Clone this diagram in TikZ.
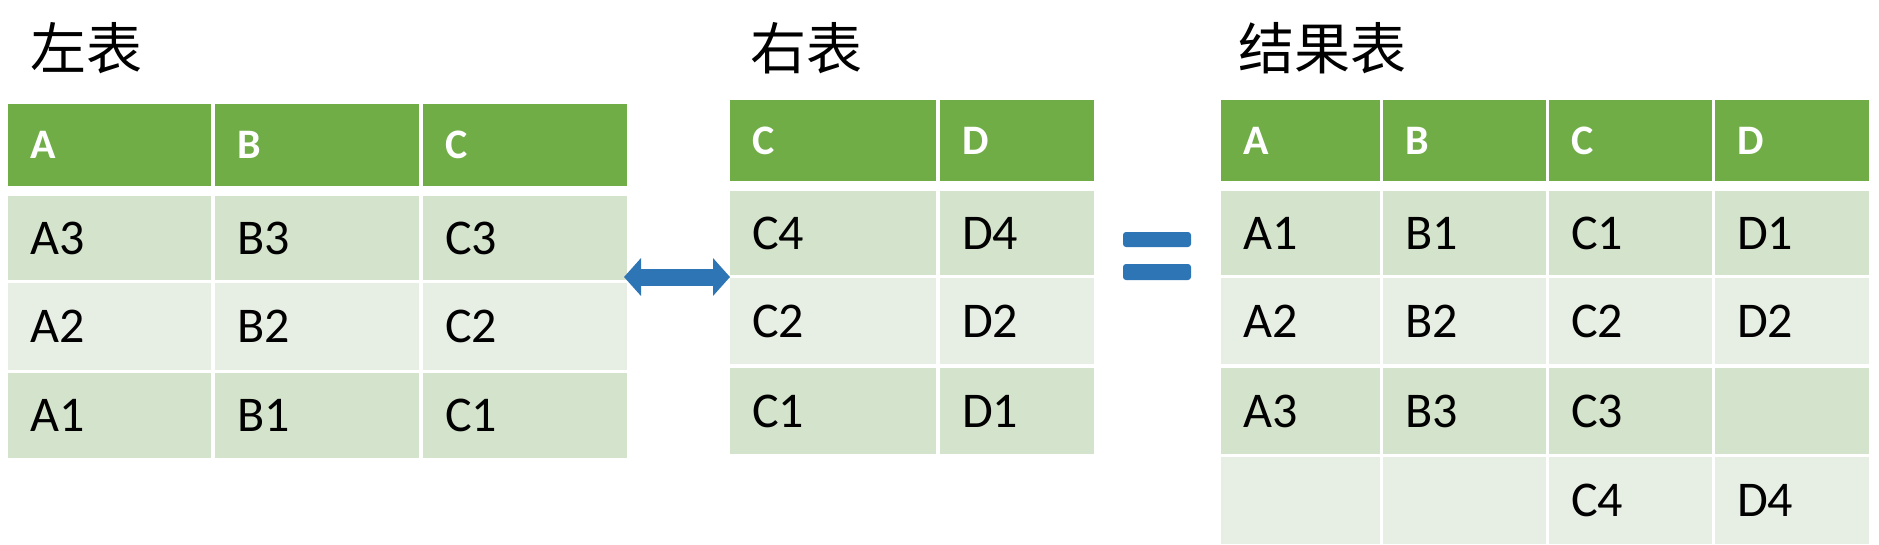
\documentclass[tikz,border=0pt]{standalone}
\usepackage{fontspec}
\setmainfont{Carlito}
\newfontfamily\cjk{Noto Sans CJK SC}
\usetikzlibrary{arrows.meta}
\definecolor{hdr}{HTML}{70AD47}
\definecolor{rowa}{HTML}{D4E3CB}
\definecolor{rowb}{HTML}{E7EEE3}
\definecolor{eqblue}{HTML}{2E75B6}
\tikzset{
  cell/.style={anchor=north west, inner sep=0pt, text depth=0pt, align=left, text=black,
    font=\fontsize{50}{50}\selectfont, text width=#1},
  hd/.style={fill=hdr, text=white, font=\bfseries\fontsize{42}{42}\selectfont},
  title/.style={anchor=north west, inner sep=0pt, font=\cjk\fontsize{56}{56}\selectfont}
}
% \mycell{name}{x1}{y1}{x2}{y2}{style}{text}
\newcommand{\mycell}[7]{%
  \fill[#6] (#2,#3) rectangle (#4,#5);
  \node[cell=#4-#2-22pt, #6, fill=none, anchor=west] (#1) at ({#2+22},{(#3+#5)/2}) {#7};}
\begin{document}
\begin{tikzpicture}[x=1pt,y=-1pt]
\useasboundingbox (0,0) rectangle (1879,544);
% titles
\node[title] (tl) at (30,22) {左表};
\node[title] (tr) at (750,22) {右表};
\node[title] (tres) at (1238,22) {结果表};
% left table
\mycell{l-h1}{8}{104}{211}{186}{hd}{A}
\mycell{l-h2}{215}{104}{419}{186}{hd}{B}
\mycell{l-h3}{423}{104}{627}{186}{hd}{C}
\mycell{l-11}{8}{196}{211}{280}{fill=rowa}{A3}
\mycell{l-12}{215}{196}{419}{280}{fill=rowa}{B3}
\mycell{l-13}{423}{196}{627}{280}{fill=rowa}{C3}
\mycell{l-21}{8}{283}{211}{370}{fill=rowb}{A2}
\mycell{l-22}{215}{283}{419}{370}{fill=rowb}{B2}
\mycell{l-23}{423}{283}{627}{370}{fill=rowb}{C2}
\mycell{l-31}{8}{373}{211}{458}{fill=rowa}{A1}
\mycell{l-32}{215}{373}{419}{458}{fill=rowa}{B1}
\mycell{l-33}{423}{373}{627}{458}{fill=rowa}{C1}
% right table
\mycell{r-h1}{730}{100}{936}{181}{hd}{C}
\mycell{r-h2}{940}{100}{1094}{181}{hd}{D}
\mycell{r-11}{730}{191}{936}{275}{fill=rowa}{C4}
\mycell{r-12}{940}{191}{1094}{275}{fill=rowa}{D4}
\mycell{r-21}{730}{278}{936}{364}{fill=rowb}{C2}
\mycell{r-22}{940}{278}{1094}{364}{fill=rowb}{D2}
\mycell{r-31}{730}{368}{936}{454}{fill=rowa}{C1}
\mycell{r-32}{940}{368}{1094}{454}{fill=rowa}{D1}
% result table
\mycell{s-h1}{1221}{100}{1380}{181}{hd}{A}
\mycell{s-h2}{1383}{100}{1546}{181}{hd}{B}
\mycell{s-h3}{1549}{100}{1712}{181}{hd}{C}
\mycell{s-h4}{1715}{100}{1869}{181}{hd}{D}
\mycell{s-11}{1221}{191}{1380}{275}{fill=rowa}{A1}
\mycell{s-12}{1383}{191}{1546}{275}{fill=rowa}{B1}
\mycell{s-13}{1549}{191}{1712}{275}{fill=rowa}{C1}
\mycell{s-14}{1715}{191}{1869}{275}{fill=rowa}{D1}
\mycell{s-21}{1221}{278}{1380}{364}{fill=rowb}{A2}
\mycell{s-22}{1383}{278}{1546}{364}{fill=rowb}{B2}
\mycell{s-23}{1549}{278}{1712}{364}{fill=rowb}{C2}
\mycell{s-24}{1715}{278}{1869}{364}{fill=rowb}{D2}
\mycell{s-31}{1221}{368}{1380}{454}{fill=rowa}{A3}
\mycell{s-32}{1383}{368}{1546}{454}{fill=rowa}{B3}
\mycell{s-33}{1549}{368}{1712}{454}{fill=rowa}{C3}
\mycell{s-34}{1715}{368}{1869}{454}{fill=rowa}{}
\mycell{s-41}{1221}{457}{1380}{544}{fill=rowb}{}
\mycell{s-42}{1383}{457}{1546}{544}{fill=rowb}{}
\mycell{s-43}{1549}{457}{1712}{544}{fill=rowb}{C4}
\mycell{s-44}{1715}{457}{1869}{544}{fill=rowb}{D4}
% double arrow
\coordinate (al) at (624,277);
\coordinate (ar) at (730,277);
\draw[eqblue, line width=17pt, {Triangle[width=37pt,length=17pt]}-{Triangle[width=37pt,length=17pt]}] (al) -- (ar);
% equals sign
\fill[eqblue, rounded corners=3pt] (1123,232) rectangle (1191,247);
\fill[eqblue, rounded corners=3pt] (1123,264) rectangle (1191,280);
\end{tikzpicture}
\end{document}
